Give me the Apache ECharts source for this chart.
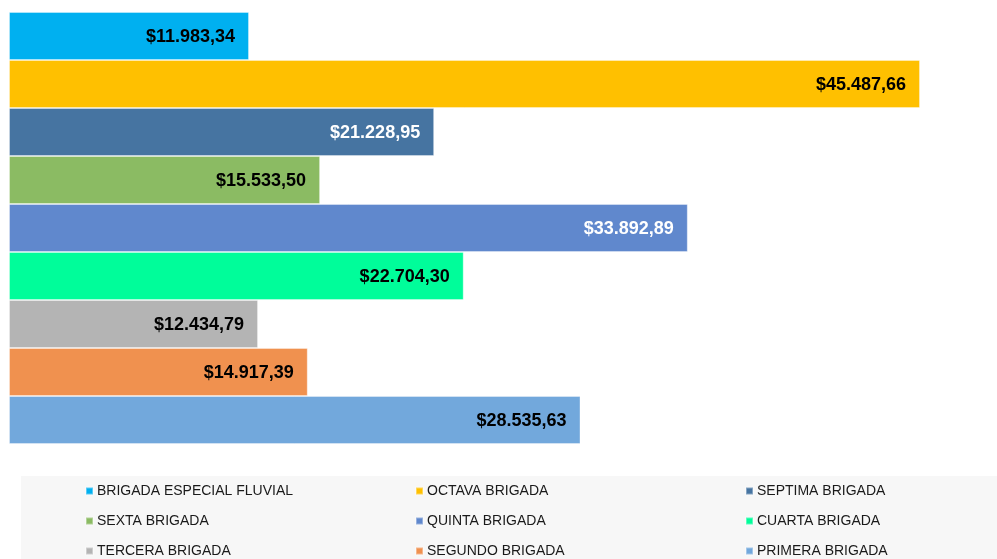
<!DOCTYPE html>
<html>
<head>
<meta charset="utf-8">
<script src="https://cdn.jsdelivr.net/npm/echarts@6/dist/echarts.min.js"></script>
<style>html,body{margin:0;padding:0;background:#fff;}#c{width:997px;height:559px;}</style>
</head>
<body>
<div id="c"></div>
<script>
const categories = ['BRIGADA ESPECIAL FLUVIAL','OCTAVA BRIGADA','SEPTIMA BRIGADA','SEXTA BRIGADA','QUINTA BRIGADA','CUARTA BRIGADA','TERCERA BRIGADA','SEGUNDO BRIGADA','PRIMERA BRIGADA'];
const values = [11983.34, 45487.66, 21228.95, 15533.50, 33892.89, 22704.30, 12434.79, 14917.39, 28535.63];
const colors = ['#00b0f0','#ffc000','#4674a1','#8bbb63','#6088cd','#00fd9a','#b4b4b4','#f0914f','#72a8dc'];
const labelColors = ['#000','#000','#fff','#000','#fff','#000','#000','#000','#000'];

function fmt(v){
  const parts = v.toFixed(2).split('.');
  const intPart = parts[0].replace(/\B(?=(\d{3})+(?!\d))/g, '.');
  return '$' + intPart + ',' + parts[1];
}

const chart = echarts.init(document.getElementById('c'), null, {renderer:'canvas'});
const series = categories.map((name, i) => ({
  name: name,
  type: 'bar',
  stack: 'all',
  barCategoryGap: 0,
  data: categories.map((_, j) => j === i ? values[i] : null),
  itemStyle: {color: colors[i], borderColor: 'rgba(255,255,255,0.35)', borderWidth: 1},
  label: {
    show: true,
    position: 'insideRight',
    distance: 14,
    offset: [0, 1],
    formatter: p => fmt(p.value),
    color: labelColors[i],
    fontFamily: 'Liberation Sans, Arial, sans-serif',
    fontWeight: 'bold',
    fontSize: 18
  }
}));

const legendText = {fontFamily: 'Liberation Sans, Arial, sans-serif', fontSize: 14, color: '#1a1a1a', lineHeight: 14, padding: [0,0,0,-1]};
function mkLegend(left, names){
  return {
    orient: 'vertical', left: left, top: 484, padding: 0,
    itemWidth: 7, itemHeight: 7, itemGap: 16,
    icon: 'rect', textStyle: legendText, data: names, selectedMode: false
  };
}

chart.setOption({
  animation: false,
  backgroundColor: '#fff',
  graphic: [{type:'rect', left: 21, top: 476, shape:{width: 976, height: 83}, style:{fill:'#f7f7f7'}, z: -1}],
  grid: {left: 9, top: 12, width: 911, height: 432, containLabel: false},
  xAxis: {type: 'value', min: 0, max: 'dataMax', show: false},
  yAxis: {type: 'category', data: categories, inverse: true, show: false},
  legend: [
    mkLegend(85, [categories[0], categories[3], categories[6]]),
    mkLegend(415, [categories[1], categories[4], categories[7]]),
    mkLegend(745, [categories[2], categories[5], categories[8]])
  ],
  series: series
});
</script>
</body>
</html>
